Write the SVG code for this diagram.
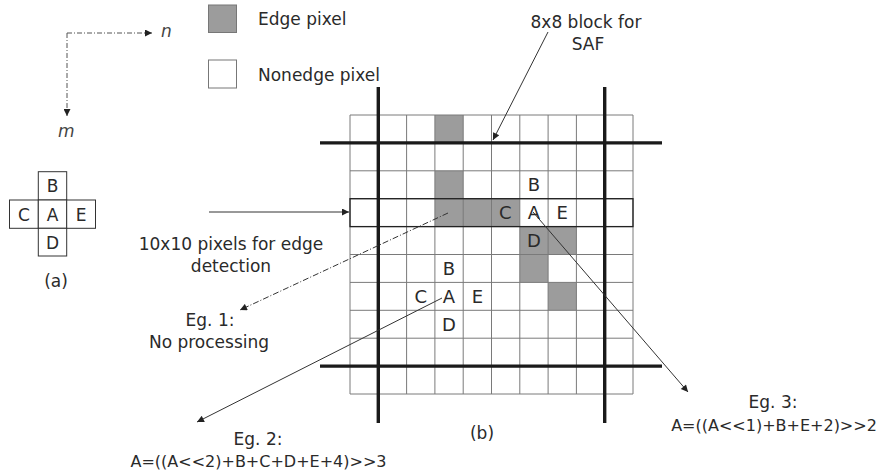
<svg xmlns="http://www.w3.org/2000/svg" width="878" height="474" viewBox="0 0 878 474">
<style>
text{font-family:"DejaVu Sans","Liberation Sans",sans-serif;fill:#2a2a2a;font-size:17px}
.c{text-anchor:middle}
.g{font-size:18px;text-anchor:middle}
.f{font-size:16px;text-anchor:middle}
.cell{fill:#fff;stroke:#777;stroke-width:1}
.edge{fill:#9c9c9c;stroke:#777;stroke-width:1}
.thin{stroke:#7a7a7a;stroke-width:1;fill:none}
.thick{stroke:#1a1a1a;stroke-width:3.4;fill:none}
.con{stroke:#333;stroke-width:1;fill:none;marker-end:url(#ah)}
.dash{stroke-dasharray:6 2 1 2}
.ax{stroke:#555;stroke-width:1;fill:none;stroke-dasharray:5 2 1 2;marker-end:url(#ah)}
</style>
<defs>
<marker id="ah" viewBox="0 0 10 10" refX="10" refY="5" markerWidth="9" markerHeight="7" markerUnits="userSpaceOnUse" orient="auto">
<path d="M0,0 L10,5 L0,10 z" fill="#222"/>
</marker>
</defs>
<rect width="878" height="474" fill="#fff"/>

<g id="axes">
<line class="ax" x1="67" y1="33" x2="152" y2="33"/>
<line class="ax" x1="67" y1="33" x2="67" y2="116"/>
<text x="161" y="37" style="font-style:italic;fill:#444">n</text>
<text x="58" y="137" style="font-style:italic;fill:#444">m</text>
</g>

<g id="legend">
<rect x="208.5" y="5" width="28" height="27.5" class="edge"/>
<text x="258" y="25">Edge pixel</text>
<rect x="208.5" y="60" width="28" height="28" class="cell"/>
<text x="258" y="81">Nonedge pixel</text>
</g>

<g id="cross-a">
<rect x="38.3" y="171.7" width="28.4" height="28.3" fill="#fff" stroke="#333"/>
<rect x="9.5" y="200" width="28.8" height="28.3" fill="#fff" stroke="#333"/>
<rect x="38.3" y="200" width="28.4" height="28.3" fill="#fff" stroke="#333"/>
<rect x="66.7" y="200" width="28.8" height="28.3" fill="#fff" stroke="#333"/>
<rect x="38.3" y="228.3" width="28.4" height="27.7" fill="#fff" stroke="#333"/>
<text class="c" x="52.5" y="192">B</text>
<text class="c" x="24" y="220.5">C</text>
<text class="c" x="52.5" y="220.5">A</text>
<text class="c" x="81" y="220.5">E</text>
<text class="c" x="52.5" y="248.5">D</text>
<text class="c" x="56" y="287">(a)</text>
</g>

<g id="grid">
<rect x="350" y="115" width="283" height="279" fill="#fff"/>
<rect x="434.9" y="115" width="28.3" height="27.9" fill="#9c9c9c"/>
<rect x="434.9" y="170.8" width="28.3" height="27.9" fill="#9c9c9c"/>
<rect x="434.9" y="198.7" width="84.9" height="27.9" fill="#9c9c9c"/>
<rect x="519.8" y="226.6" width="56.6" height="27.9" fill="#9c9c9c"/>
<rect x="519.8" y="254.5" width="28.3" height="27.9" fill="#9c9c9c"/>
<rect x="548.1" y="282.4" width="28.3" height="27.9" fill="#9c9c9c"/>
<path class="thin" d="M350,115V394M378.3,115V394M406.6,115V394M434.9,115V394M463.2,115V394M491.5,115V394M519.8,115V394M548.1,115V394M576.4,115V394M604.7,115V394M633,115V394"/>
<path class="thin" d="M350,115H633M350,142.9H633M350,170.8H633M350,198.7H633M350,226.6H633M350,254.5H633M350,282.4H633M350,310.3H633M350,338.2H633M350,366.1H633M350,394H633"/>
<rect x="350" y="198.7" width="283" height="27.9" fill="none" stroke="#222" stroke-width="1.3"/>
<path class="thick" d="M378.3,87V423M604.7,87V423M320,142.9H662M320,366.1H662"/>
<text class="g" x="534" y="191">B</text>
<text class="g" x="505.3" y="219">C</text>
<text class="g" x="534" y="219">A</text>
<text class="g" x="562.3" y="219">E</text>
<text class="g" x="534" y="247">D</text>
<text class="g" x="449" y="275">B</text>
<text class="g" x="420.8" y="303">C</text>
<text class="g" x="449" y="303">A</text>
<text class="g" x="477.4" y="303">E</text>
<text class="g" x="449" y="331">D</text>
<text class="c" x="482" y="439">(b)</text>
</g>

<g id="label-10x10">
<text class="c" x="231" y="250">10x10 pixels for edge</text>
<text class="c" x="231" y="272">detection</text>
</g>
<g id="label-8x8">
<text class="c" x="586" y="28">8x8 block for</text>
<text class="c" x="588" y="50">SAF</text>
</g>
<g id="label-eg1">
<text class="c" x="210" y="326">Eg. 1:</text>
<text class="c" x="209" y="348">No processing</text>
</g>
<g id="label-eg2">
<text class="c" x="258" y="445">Eg. 2:</text>
<text class="f" x="258.5" y="467">A=((A&lt;&lt;2)+B+C+D+E+4)&gt;&gt;3</text>
</g>
<g id="label-eg3">
<text class="c" x="773" y="408">Eg. 3:</text>
<text class="f" x="774" y="431">A=((A&lt;&lt;1)+B+E+2)&gt;&gt;2</text>
</g>

<g id="connectors">
<line class="con" x1="209" y1="212" x2="349" y2="212"/>
<line class="con" x1="548" y1="32" x2="493" y2="140"/>
<line class="con dash" x1="448" y1="213" x2="240" y2="310"/>
<line class="con" x1="442" y1="298" x2="197" y2="422"/>
<line class="con" x1="533" y1="212" x2="688" y2="392"/>
</g>
</svg>
